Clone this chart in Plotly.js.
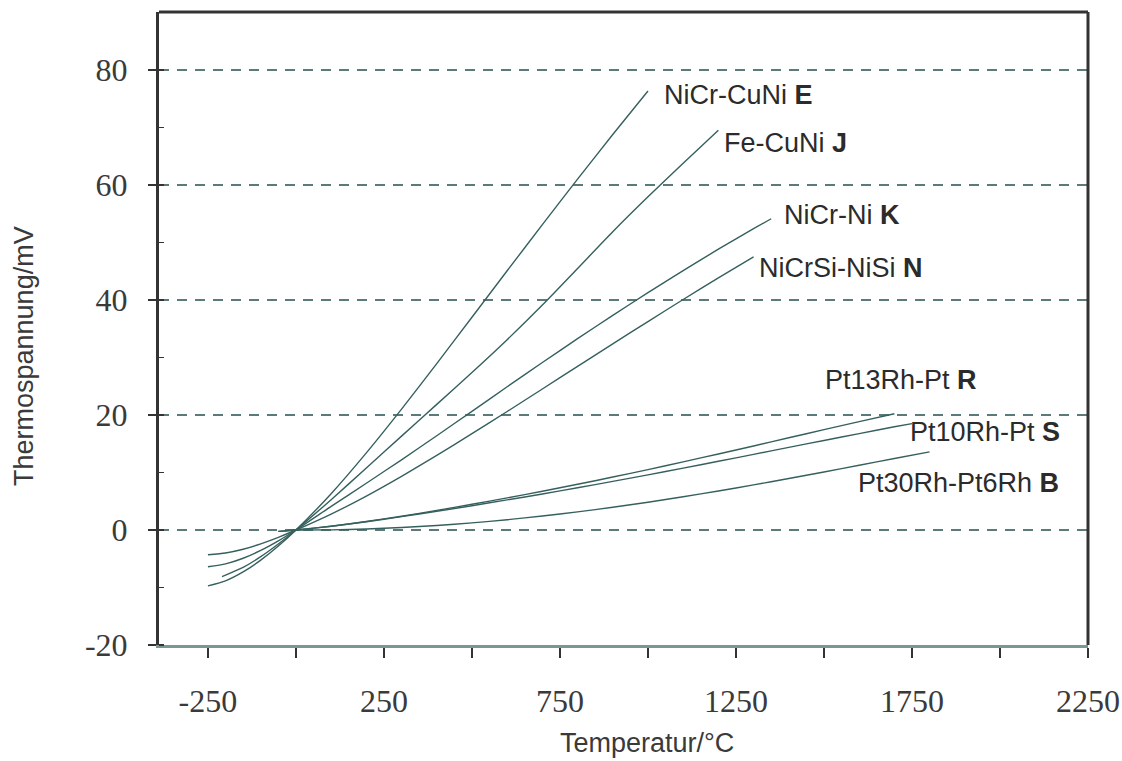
<!DOCTYPE html>
<html>
<head>
<meta charset="utf-8">
<script src="https://cdn.plot.ly/plotly-3.0.1.min.js"></script>
<style>html,body{margin:0;padding:0;background:#fff}#chart{width:1122px;height:761px}</style>
</head>
<body>
<div id="chart"></div>
<script>
// Thermocouple voltages (mV) vs temperature (°C)
const tE = [-250,-200,-150,-100,-50,0,100,200,300,400,500,600,700,800,900,1000];
const vE = [-9.72,-8.83,-7.28,-5.24,-2.79,0,6.32,13.42,21.03,28.95,37.01,45.09,53.11,61.02,68.79,76.37];

const tJ = [-210,-150,-100,-50,0,100,200,300,400,500,600,700,800,900,1000,1100,1200];
const vJ = [-8.10,-6.50,-4.63,-2.43,0,5.27,10.78,16.33,21.85,27.39,33.10,39.13,45.49,51.88,57.95,63.79,69.55];

const tK = [-250,-200,-150,-100,-50,0,100,200,300,400,500,600,700,800,900,1000,1100,1200,1300,1350];
const vK = [-6.40,-5.89,-4.91,-3.55,-1.89,0,4.10,8.14,12.21,16.40,20.64,24.91,29.13,33.28,37.33,41.28,45.12,48.84,52.41,54.14];

const tN = [-250,-200,-150,-100,-50,0,100,200,300,400,500,600,700,800,900,1000,1100,1200,1300];
const vN = [-4.31,-3.99,-3.34,-2.41,-1.27,0,2.77,5.91,9.34,12.97,16.75,20.61,24.53,28.46,32.37,36.26,40.09,43.85,47.51];

const tR = [-50,0,100,200,300,400,500,600,700,800,900,1000,1100,1200,1300,1400,1500,1600,1700];
const vR = [-0.23,0,0.65,1.47,2.40,3.41,4.47,5.58,6.74,7.95,9.21,10.51,11.85,13.23,14.62,16.04,17.45,18.85,20.22];

const tS = [-50,0,100,200,300,400,500,600,700,800,900,1000,1100,1200,1300,1400,1500,1600,1700,1750];
const vS = [-0.24,0,0.65,1.44,2.32,3.26,4.23,5.24,6.27,7.35,8.45,9.59,10.76,11.95,13.16,14.37,15.58,16.77,17.95,18.50];

const tB = [0,100,200,300,400,500,600,700,800,900,1000,1100,1200,1300,1400,1500,1600,1700,1800];
const vB = [0,0.03,0.18,0.43,0.79,1.24,1.79,2.43,3.15,3.96,4.83,5.78,6.79,7.85,8.96,10.10,11.26,12.43,13.59];

// Tick labels
const xTickVals = [-250,250,750,1250,1750,2250];
const xTickText = ['-250','250','750','1250','1750','2250'];
const yTickVals = [-20,0,20,40,60,80];
const yTickText = ['-20','0','20','40','60','80'];

const labels = ["NiCr-CuNi <b>E</b>","Fe-CuNi <b>J</b>","NiCr-Ni <b>K</b>","NiCrSi-NiSi <b>N</b>",
                "Pt13Rh-Pt <b>R</b>","Pt10Rh-Pt <b>S</b>","Pt30Rh-Pt6Rh <b>B</b>"];
const labelX = [1040,1211,1381,1310,1498,1739,1591];
const labelY = [75.7,67.3,54.8,45.6,26.1,17.0,8.2];

const series = [[tE,vE],[tJ,vJ],[tK,vK],[tN,vN],[tR,vR],[tS,vS],[tB,vB]];
const lineColor = '#35605e';

const traces = series.map((s,i)=>({
  x: s[0], y: s[1], type:'scatter', mode:'lines',
  line:{color:lineColor, width:1.4, shape:'spline', smoothing:0.6},
  hoverinfo:'skip', showlegend:false
}));

const sansFont = 'Liberation Sans, Arial, sans-serif';
const annotations = labels.map((t,i)=>({
  x: labelX[i], y: labelY[i], xref:'x', yref:'y', text:t, showarrow:false,
  xanchor:'left', yanchor:'middle',
  font:{family:sansFont, size:27, color:'#2b2b2b'}
}));
// axis titles placed like the reference
annotations.push({
  x:-0.1453, y:0.4566, xref:'paper', yref:'paper', text:'Thermospannung/mV', textangle:-90,
  showarrow:false, xanchor:'center', yanchor:'middle',
  font:{family:sansFont, size:27, color:'#3a3a3a'}
});
annotations.push({
  x:0.525, y:-0.155, xref:'paper', yref:'paper', text:'Temperatur/°C',
  showarrow:false, xanchor:'center', yanchor:'middle',
  font:{family:sansFont, size:27, color:'#3a3a3a'}
});

const layout = {
  width:1122, height:761,
  margin:{l:159, r:34, t:12, b:116},
  paper_bgcolor:'#fff', plot_bgcolor:'#fff',
  showlegend:false,
  xaxis:{
    range:[-389,2250], tickmode:'array', tickvals:xTickVals, ticktext:xTickText,
    ticks:'outside', ticklen:10, tickwidth:1.2, tickcolor:'#333',
    minor:{dtick:250, tick0:-250, ticks:'outside', ticklen:10, tickwidth:1.2, tickcolor:'#333', showgrid:false},
    showgrid:false, zeroline:false,
    showline:true, linecolor:'#7b9795', linewidth:3,
    tickfont:{family:'Liberation Serif, Times New Roman, serif', size:32, color:'#3a3a3a'},
    ticklabelstandoff:16
  },
  yaxis:{
    range:[-20,90.1], tickmode:'array', tickvals:yTickVals, ticktext:yTickText,
    ticks:'outside', ticklen:8, tickwidth:1.2, tickcolor:'#333',
    minor:{dtick:10, tick0:0, ticks:'inside', ticklen:5, tickwidth:1.5, tickcolor:'#333', showgrid:false},
    showgrid:true, gridcolor:'#5a7b79', gridwidth:2, griddash:'10px,8px',
    zeroline:false,
    showline:true, linecolor:'#333', linewidth:3,
    tickfont:{family:'Liberation Serif, Times New Roman, serif', size:32, color:'#3a3a3a'},
    ticklabelstandoff:14
  },
  shapes:[
    {type:'line', xref:'paper', yref:'paper', x0:0, x1:1, y0:1, y1:1, line:{color:'#333', width:3}},
    {type:'line', xref:'paper', yref:'paper', x0:1, x1:1, y0:0, y1:1, line:{color:'#333', width:3}}
  ],
  annotations: annotations
};

Plotly.newPlot('chart', traces, layout, {displayModeBar:false, staticPlot:true});
</script>
</body>
</html>
